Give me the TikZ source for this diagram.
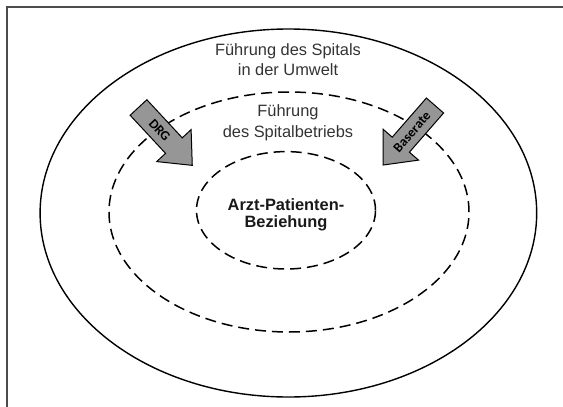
\documentclass[tikz,border=0pt]{standalone}
\usepackage{fontspec}
\setmainfont{Liberation Sans}
\newfontfamily\arrowfont{Carlito}
\usetikzlibrary{shapes.geometric}

\definecolor{arrowgray}{RGB}{150,150,150}
\tikzset{
  ring/.style={draw, ellipse, inner sep=0pt, line width=1.4pt},
  dashring/.style={ring, line width=1.5pt, dash pattern=on 11pt off 6pt},
  ringtext/.style={align=center, text=black!80, font=\fontsize{16.4}{20.5}\selectfont},
  coretext/.style={align=center, text=black!90, font=\bfseries\fontsize{16.4}{17.5}\selectfont},
  blockarrow/.style={fill=arrowgray, draw=black, line width=1pt, line join=miter},
  arrowtext/.style={font=\arrowfont\bfseries\fontsize{13.5}{15}\selectfont, inner sep=0pt}
}

\begin{document}
\begin{tikzpicture}[x=1pt, y=-1pt]
\useasboundingbox (0,0) rectangle (563,407);
% Rahmen
\draw[black!70, line width=1.2pt] (7,407) |- (563,7);

% Ellipsen
\node[ring, minimum width=496.6pt, minimum height=368pt] (umwelt) at (288.4,213) {};
\node[dashring, minimum width=360pt, minimum height=240pt] (betrieb) at (289,212) {};
\node[dashring, minimum width=179pt, minimum height=117.4pt] (beziehung) at (286,210.3) {};

% Beschriftungen
\node[ringtext] (umwelttext) at (288,59.8) {Führung des Spitals\\in der Umwelt};
\node[ringtext] (betriebtext) at (288,122.7) {Führung\\des Spitalbetriebs};
\node[coretext] (beziehungtext) at (286,215) {Arzt-Patienten-\\Beziehung};

% Pfeile
\filldraw[blockarrow, shift={(138.5,107.5)}, rotate=-47.1]
  (0,-11.4) -- (52,-11.4) -- (52,-23.5) -- (79,0) -- (52,23.5) -- (52,11.4) -- (0,11.4) -- cycle
  (31,0) node[arrowtext, rotate=-47.1] (drg) {DRG};
\filldraw[blockarrow, shift={(435,105.5)}, rotate=-131.1]
  (0,-11.4) -- (52,-11.4) -- (52,-23.5) -- (79,0) -- (52,23.5) -- (52,11.4) -- (0,11.4) -- cycle
  (35,0) node[arrowtext, rotate=48.9] (baserate) {Baserate};
\end{tikzpicture}
\end{document}
